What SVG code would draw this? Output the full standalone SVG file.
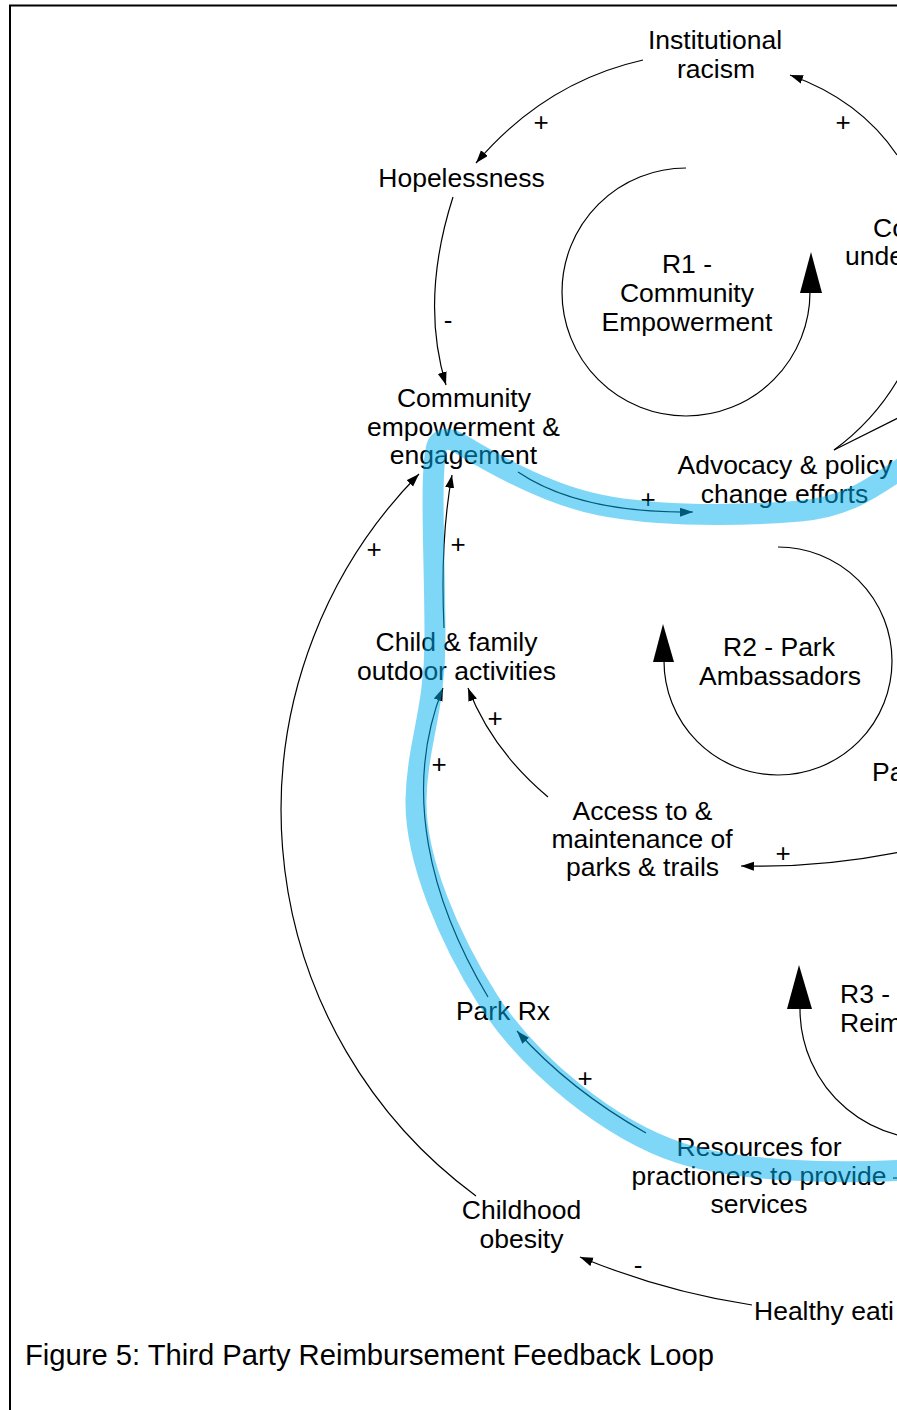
<svg xmlns="http://www.w3.org/2000/svg" width="897" height="1410" viewBox="0 0 897 1410">
  <defs>
    <style>
      .lbl { font-family: "Liberation Sans", Arial, sans-serif; font-size: 26.5px; fill: #000; text-anchor: middle; }
      .lbl-start { font-family: "Liberation Sans", Arial, sans-serif; font-size: 26.5px; fill: #000; }
      .sign { font-family: "Liberation Sans", Arial, sans-serif; font-size: 26px; fill: #000; text-anchor: middle; }
      .caption { font-family: "Liberation Sans", Arial, sans-serif; font-size: 29.2px; fill: #000; }
      .link { fill: none; stroke: #000; stroke-width: 1.2; marker-end: url(#arrow); }
      .plain { fill: none; stroke: #000; stroke-width: 1.2; }
      .loop { fill: none; stroke: #000; stroke-width: 1.2; }
      .loophead { fill: #000; }
      .highlight { fill: none; stroke: #00b0f0; stroke-opacity: 0.5; stroke-width: 21; stroke-linejoin: round; }
    </style>
    <marker id="arrow" markerWidth="14" markerHeight="10" refX="13" refY="4.5" orient="auto" markerUnits="userSpaceOnUse">
      <path d="M0,0 L13,4.5 L0,9 z" fill="#000"/>
    </marker>
  </defs>

  <rect x="0" y="0" width="897" height="1410" fill="#fff"/>
  <!-- page frame -->
  <rect x="10" y="5.5" width="1000" height="1500" fill="none" stroke="#000" stroke-width="2"/>

  <!-- loop indicators -->
  <g id="loop-r1">
    <path class="loop" d="M 686 168 A 124 124 0 1 0 810 292"/>
    <polygon class="loophead" points="811,252 822,293 800,293"/>
    <text class="lbl" x="687" y="273">R1 -</text>
    <text class="lbl" x="687" y="302">Community</text>
    <text class="lbl" x="687" y="331">Empowerment</text>
  </g>
  <g id="loop-r2">
    <path class="loop" d="M 778 547 A 114 114 0 1 1 664 661"/>
    <polygon class="loophead" points="663,624 674,662 653,662"/>
    <text class="lbl" x="779" y="656">R2 - Park</text>
    <text class="lbl" x="780" y="685">Ambassadors</text>
  </g>
  <g id="loop-r3">
    <path class="loop" d="M 953 1137 A 130 130 0 0 1 800 1009"/>
    <polygon class="loophead" points="799,965 812,1009 787,1009"/>
    <text class="lbl-start" x="840" y="1003">R3 -</text>
    <text class="lbl-start" x="840" y="1032">Reim</text>
  </g>

  <!-- connectors -->
  <g id="connectors">
    <path class="link" d="M 643 60 Q 545 82 476 163"/>
    <path class="link" d="M 897 155 Q 860 100 790 75"/>
    <path class="link" d="M 453 197 Q 420 300 446 385"/>
    <path class="plain" d="M 834 450 Q 875 420 900 376"/>
    <path class="plain" d="M 834 450 L 900 417"/>
    <path class="link" d="M 518 472 C 555 497, 610 513, 693 512"/>
    <path class="link" d="M 476 1196 A 479 479 0 0 1 419 474"/>
    <path class="link" d="M 444 628 Q 440 540 452 475"/>
    <path class="link" d="M 488 997 C 430 900, 402 790, 443 688"/>
    <path class="link" d="M 548 797 Q 492 750 468 688"/>
    <path class="link" d="M 900 852 Q 820 868 741 866"/>
    <path class="link" d="M 646 1133 Q 570 1090 517 1031"/>
    <path class="link" d="M 752 1305 Q 665 1292 580 1257"/>
    <path class="plain" d="M 893 1178 L 900 1178"/>
  </g>

  <!-- polarity signs -->
  <g id="polarities">
    <text class="sign" x="541" y="131">+</text>
    <text class="sign" x="843" y="131">+</text>
    <text class="sign" x="448" y="329">-</text>
    <text class="sign" x="648" y="508">+</text>
    <text class="sign" x="374" y="558">+</text>
    <text class="sign" x="458" y="553">+</text>
    <text class="sign" x="495" y="727">+</text>
    <text class="sign" x="439" y="773">+</text>
    <text class="sign" x="783" y="862">+</text>
    <text class="sign" x="585" y="1087">+</text>
    <text class="sign" x="638" y="1274">-</text>
  </g>

  <!-- variables -->
  <g id="institutional-racism">
    <text class="lbl" x="715" y="49">Institutional</text>
    <text class="lbl" x="716" y="78">racism</text>
  </g>
  <g id="hopelessness">
    <text class="lbl" x="461.5" y="187">Hopelessness</text>
  </g>
  <g id="community-understanding">
    <text class="lbl-start" x="873" y="237">Co</text>
    <text class="lbl-start" x="845" y="265">unde</text>
  </g>
  <g id="community-empowerment">
    <text class="lbl" x="464" y="407">Community</text>
    <text class="lbl" x="463.5" y="436">empowerment &amp;</text>
    <text class="lbl" x="463.5" y="464">engagement</text>
  </g>
  <g id="advocacy">
    <text class="lbl" x="785" y="474">Advocacy &amp; policy</text>
    <text class="lbl" x="784.5" y="503">change efforts</text>
  </g>
  <g id="child-family-activities">
    <text class="lbl" x="456.5" y="651">Child &amp; family</text>
    <text class="lbl" x="456.5" y="680">outdoor activities</text>
  </g>
  <g id="park-ambassadors">
    <text class="lbl-start" x="872" y="781">Pa</text>
  </g>
  <g id="access-parks">
    <text class="lbl" x="642.5" y="820">Access to &amp;</text>
    <text class="lbl" x="642" y="848">maintenance of</text>
    <text class="lbl" x="642.5" y="876">parks &amp; trails</text>
  </g>
  <g id="park-rx">
    <text class="lbl" x="503" y="1020">Park Rx</text>
  </g>
  <g id="resources">
    <text class="lbl" x="759" y="1156">Resources for</text>
    <text class="lbl" x="759" y="1185">practioners to provide</text>
    <text class="lbl" x="759" y="1213">services</text>
  </g>
  <g id="childhood-obesity">
    <text class="lbl" x="521.5" y="1219">Childhood</text>
    <text class="lbl" x="521.5" y="1248">obesity</text>
  </g>
  <g id="healthy-eating">
    <text class="lbl-start" x="754" y="1320">Healthy eati</text>
  </g>

  <!-- highlighted feedback path -->
  <g id="highlight">
    <path class="highlight" d="M 905 1170 C 840 1174, 740 1172, 680 1153 C 610 1130, 530 1065, 488 1000 C 450 940, 415 860, 416 800 C 417 745, 435 710, 435 640 C 435 560, 430 480, 436 450 C 438 438, 448 436, 462 445 C 500 468, 550 495, 600 505 C 660 517, 740 516, 800 511 C 845 507, 870 490, 905 466"/>
  </g>

  <text class="caption" x="25" y="1365">Figure 5: Third Party Reimbursement Feedback Loop</text>
</svg>
